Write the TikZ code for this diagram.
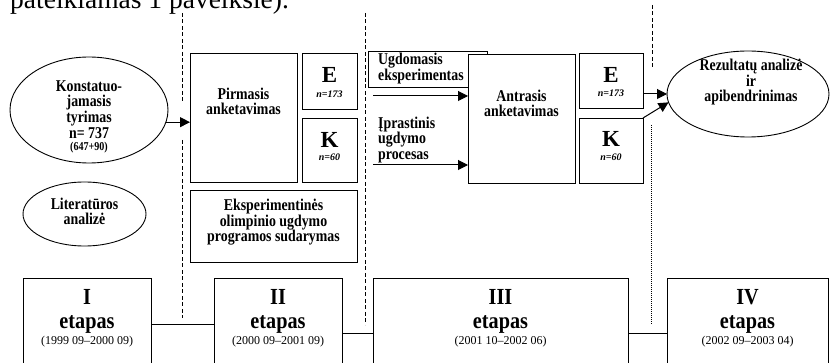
\documentclass[tikz,border=0pt]{standalone}
\usepackage{fontspec}
\setmainfont{Liberation Serif}
\newfontfamily\narrowserif{Liberation Serif}[FakeStretch=0.84]
\newfontfamily\semiserif{Liberation Serif}[FakeStretch=0.88]
\usetikzlibrary{arrows.meta,shapes.geometric,fit}
\begin{document}
\begin{tikzpicture}[x=1pt,y=-1pt,
  box/.style={draw, rectangle, line width=0.9pt, inner sep=0pt, outer sep=0pt},
  ell/.style={draw, ellipse, line width=0.9pt, inner sep=0pt, outer sep=0pt},
  arr/.style={line width=1pt, -{Triangle[length=10pt,width=10pt]}},
  conn/.style={line width=0.9pt},
  lbl/.style={font=\narrowserif\bfseries\fontsize{16.5}{15.7}\selectfont, align=center, inner sep=0pt, anchor=base},
  lbll/.style={font=\narrowserif\bfseries\fontsize{16.5}{15.7}\selectfont, align=left, inner sep=0pt, anchor=base west},
  big/.style={font=\bfseries\fontsize{23}{23}\selectfont, inner sep=0pt, anchor=base},
  nsmall/.style={font=\bfseries\itshape\fontsize{10}{10}\selectfont, inner sep=0pt, anchor=base},
  etap/.style={font=\semiserif\bfseries\fontsize{23}{23}\selectfont, inner sep=0pt, anchor=base},
  dates/.style={font=\fontsize{12}{12}\selectfont, inner sep=0pt, anchor=base},
  sepline/.style={line width=0.8pt, dash pattern=on 4pt off 2.5pt},
  dotline/.style={line width=0.7pt, dash pattern=on 1pt off 1pt}]
\clip (0,0) rectangle (830,363);

% clipped body text at top
\node[font=\fontsize{27.5}{27.5}\selectfont, inner sep=0pt, anchor=base west] (body) at (10,9) {pateikiamas 1 paveiksle).};

% separators
\draw[sepline] (182,13) -- (182,102);
\draw[sepline] (182,140) -- (182,318);
\draw[sepline] (365,13) -- (365,325);
\draw[sepline] (652,5) -- (652,68);
\draw[dotline] (651,125) -- (651,325);

% left ellipses
\node[ell, minimum width=158pt, minimum height=106pt] (konst) at (89,110) {};
\node[lbl] (konstt) at (89,151) {Konstatuo-\\jamasis\\tyrimas\\n= 737\\[-3pt]{\fontsize{12}{12}\selectfont (647+90)}};
\node[ell, minimum width=123pt, minimum height=64pt] (lit) at (84.5,214) {};
\node[lbl] (litt) at (84.5,225) {Literatūros\\analizė};

% stage II boxes
\node[box, fit={(190,53) (297,182)}] (pirm) {};
\node[lbl] (pirmt) at (243.5,115) {Pirmasis\\anketavimas};
\node[box, fit={(302,53) (357,109)}] (e1) {};
\node[big] (e1t) at (329.5,83) {E};
\node[nsmall] (e1n) at (329.5,97.5) {n=173};
\node[box, fit={(302,118) (357,182)}] (k1) {};
\node[big] (k1t) at (329.5,148) {K};
\node[nsmall] (k1n) at (329.5,161) {n=60};
\node[box, fit={(190,190) (357,262)}] (eksp) {};
\node[lbl] (ekspt) at (273.5,242) {Eksperimentinės\\olimpinio ugdymo\\programos sudarymas};

% stage III
\node[box, fit={(368,51) (487,87)}] (ugd) {};
\node[lbll] (ugdt) at (378,80.5) {Ugdomasis\\eksperimentas};
\node[box, fill=white, fit={(468,54) (575,183)}] (antr) {};
\node[lbl] (antrt) at (521.5,117) {Antrasis\\anketavimas};
\node[lbll] (iprt) at (378,159.5) {Įprastinis\\ugdymo\\procesas};
\coordinate (u1) at (373,96);
\coordinate (u2) at (373,165);
\draw[arr] (u1) -- (antr.west |- u1);
\draw[arr] (u2) -- (antr.west |- u2);

\node[box, fit={(579,53) (643,108)}] (e2) {};
\node[big] (e2t) at (611,83) {E};
\node[nsmall] (e2n) at (611,97) {n=173};
\node[box, fit={(579,118) (643,183)}] (k2) {};
\node[big] (k2t) at (611,147) {K};
\node[nsmall] (k2n) at (611,161) {n=60};

% results ellipse
\node[ell, minimum width=162pt, minimum height=86pt] (rez) at (748,94) {};
\node[lbl] (rezt) at (751,102) {Rezultatų analizė\\ir\\apibendrinimas};

% arrows
\draw[arr] (konst.-9) -- (pirm.west |- konst.-9);
\draw[arr] (e2.east |- rez.west) -- (rez.west);
\draw[arr] (k2.north east) -- (rez.186);

% bottom stage boxes
\node[box, fit={(23,278) (151,375)}] (b1) {};
\node[box, fit={(214,278) (342,375)}] (b2) {};
\node[box, fit={(373,278) (628,375)}] (b3) {};
\node[box, fit={(667,278) (828,375)}] (b4) {};
\node[etap] at (87,305) {I};
\node[etap] at (87,328) {etapas};
\node[dates] at (87,344.5) {(1999 09–2000 09)};
\node[etap] at (278,305) {II};
\node[etap] at (278,328) {etapas};
\node[dates] at (278,344.5) {(2000 09–2001 09)};
\node[etap] at (500.5,305) {III};
\node[etap] at (500.5,328) {etapas};
\node[dates] at (500.5,344.5) {(2001 10–2002 06)};
\node[etap] at (747.5,305) {IV};
\node[etap] at (747.5,328) {etapas};
\node[dates] at (747.5,344.5) {(2002 09–2003 04)};
\coordinate (c1) at (0,324);
\coordinate (c2) at (0,333);
\draw[conn] (b1.east |- c1) -- (b2.west |- c1);
\draw[conn] (b2.east |- c2) -- (b3.west |- c2);
\draw[conn] (b3.east |- c2) -- (b4.west |- c2);
\end{tikzpicture}
\end{document}
